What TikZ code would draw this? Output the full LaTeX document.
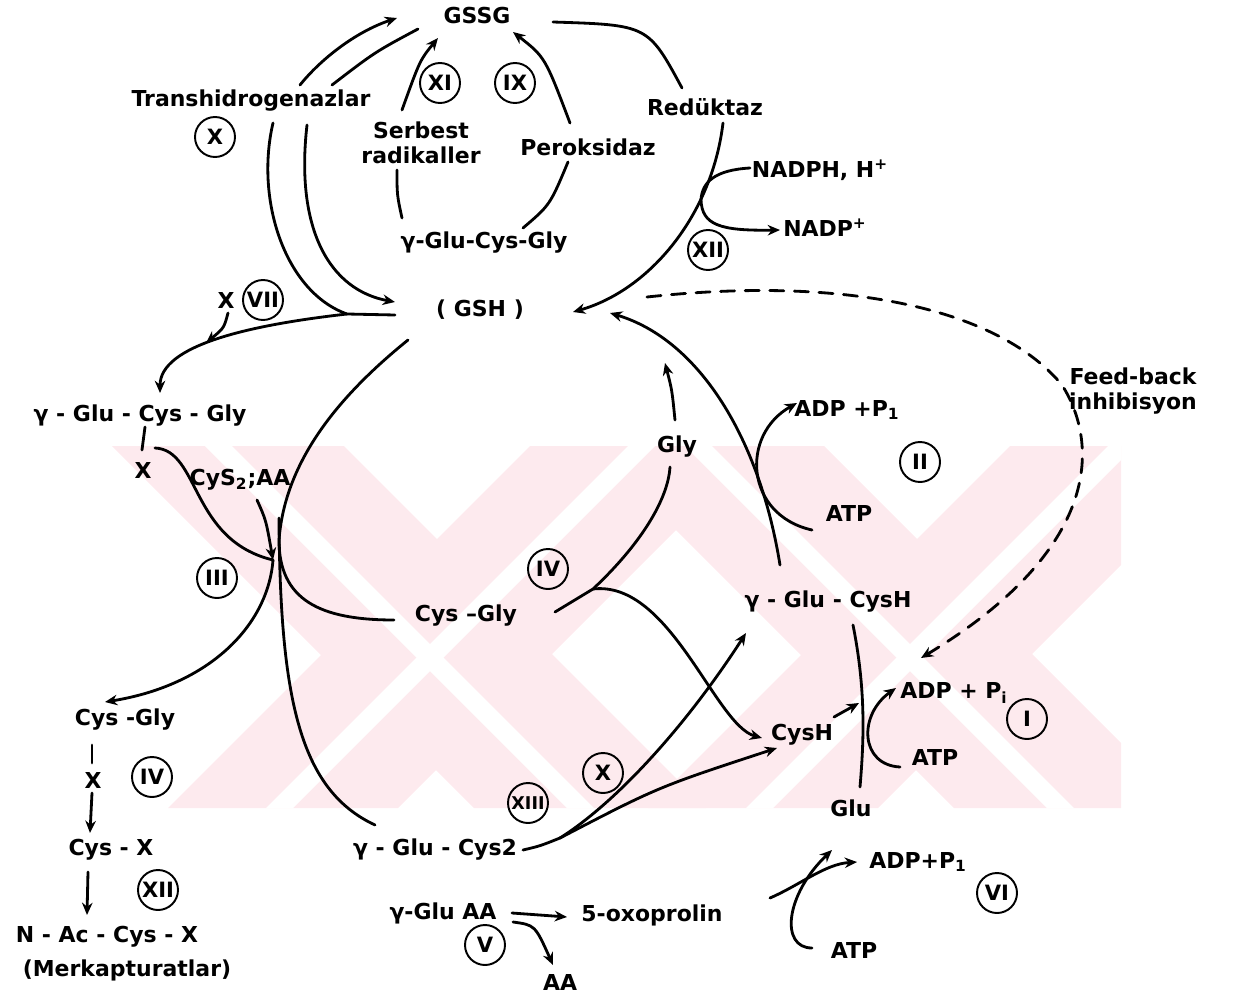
\documentclass[tikz,border=0pt]{standalone}
\usepackage{fontspec}
\setmainfont{DejaVu Sans}
\usetikzlibrary{arrows.meta}

\begin{document}
\begin{tikzpicture}[x=0.2mm,y=-0.2mm,line cap=round,>={Stealth[length=7pt,width=6pt]}]
  % Colors
  \definecolor{markcolor}{RGB}{253,234,238}

  % Styles
  \tikzstyle{chem}=[inner sep=1pt,font=\bfseries\fontsize{12.5}{14}\selectfont]
  \tikzstyle{enzyme}=[circle,draw,line width=1.1pt,minimum size=0.8cm,inner sep=0pt,
    font=\bfseries\fontsize{12}{14}\selectfont]
  \tikzstyle{reaction}=[line width=1.6pt]
  \tikzstyle{feedback}=[reaction,dash pattern=on 8pt off 6pt]

  \useasboundingbox (0,0) rectangle (1245,997);

  % Watermark
  \begin{scope}
    \clip (110,446) rectangle (1121,808);
    \foreach \dx in {0,480} {
      \fill[markcolor] (112+\dx,446) -- (344+\dx,446) -- (706+\dx,808) -- (474+\dx,808) -- cycle;
      \fill[markcolor] (530+\dx,446) -- (760+\dx,446) -- (398+\dx,808) -- (168+\dx,808) -- cycle;
    }
    \foreach \dx in {0,480} {
      \fill[white] (205+\dx,446) -- (232+\dx,446) -- (594+\dx,808) -- (567+\dx,808) -- cycle;
      \fill[white] (628+\dx,446) -- (655+\dx,446) -- (293+\dx,808) -- (266+\dx,808) -- cycle;
    }
  \end{scope}

  % Compounds
  \node[chem] (gssg) at (477,16) {GSSG};
  \node[chem] (trans) at (251,101) {Transhidrogenazlar};
  \node[chem,align=center] (radical) at (421,143) {Serbest\\radikaller};
  \node[chem] (perox) at (588,147) {Peroksidaz};
  \node[chem] (reduk) at (705,107) {Redüktaz};
  \node[chem] (nadph) at (820,170) {NADPH, H\textsuperscript{+}};
  \node[chem] (nadp) at (825,228) {NADP\textsuperscript{+}};
  \node[chem] (gcgtop) at (484,243) {γ-Glu-Cys-Gly};
  \node[chem] (gsh) at (480,310) {( GSH )};
  \node[chem] (xvii) at (226,300) {X};
  \node[chem] (gcgleft) at (140,416) {γ - Glu - Cys - Gly};
  \node[chem] (xleft) at (143,470) {X};
  \node[chem] (cysaa) at (240,480) {CyS\textsubscript{2};AA};
  \node[chem] (cgmid) at (466,616) {Cys –Gly};
  \node[chem] (gly) at (677,447) {Gly};
  \node[chem] (adp2) at (847,410) {ADP +P\textsubscript{1}};
  \node[chem] (atp2) at (849,513) {ATP};
  \node[chem,align=center] (feed) at (1133,391) {Feed-back\\inhibisyon};
  \node[chem] (gcysh) at (828,602) {γ - Glu - CysH};
  \node[chem] (adp1) at (954,693) {ADP + P\textsubscript{i}};
  \node[chem] (cysh) at (802,735) {CysH};
  \node[chem] (atp1) at (935,757) {ATP};
  \node[chem] (glu) at (851,808) {Glu};
  \node[chem] (cgleft) at (125,720) {Cys -Gly};
  \node[chem] (xl2) at (93,780) {X};
  \node[chem] (cysx) at (111,850) {Cys - X};
  \node[chem] (nac) at (107,937) {N - Ac - Cys - X};
  \node[chem] (merk) at (127,970) {(Merkapturatlar)};
  \node[chem] (gc2) at (435,850) {γ - Glu - Cys2};
  \node[chem] (gaa) at (443,913) {γ-Glu AA};
  \node[chem] (oxo) at (652,915) {5-oxoprolin};
  \node[chem] (aa) at (560,982) {AA};
  \node[chem] (adp3) at (918,862) {ADP+P\textsubscript{1}};
  \node[chem] (atp3) at (854,950) {ATP};

  % Enzymes
  \node[enzyme] (eX) at (215,137) {X};
  \node[enzyme] (eXI) at (440,83) {XI};
  \node[enzyme] (eIX) at (515,83) {IX};
  \node[enzyme] (eXIIa) at (708,250) {XII};
  \node[enzyme] (eVII) at (263,300) {VII};
  \node[enzyme] (eIII) at (217,578) {III};
  \node[enzyme] (eIVa) at (548,569) {IV};
  \node[enzyme] (eII) at (920,462) {II};
  \node[enzyme] (eI) at (1027,719) {I};
  \node[enzyme] (eIVb) at (152,777) {IV};
  \node[enzyme] (eXIIb) at (158,890) {XII};
  \node[enzyme,font=\bfseries\fontsize{10}{12}\selectfont] (eXIII) at (528,803) {XIII};
  \node[enzyme] (eXb) at (603,773) {X};
  \node[enzyme] (eV) at (485,945) {V};
  \node[enzyme] (eVI) at (997,893) {VI};

  % Line ends
  \coordinate (gshL) at (395,315); \coordinate (fork) at (347,314);
  \coordinate (transBL) at (273,123); \coordinate (gcglT) at (160,393);
  \coordinate (xviiS) at (228,313); \coordinate (viiTip) at (206,343);
  \coordinate (transTR) at (300,85); \coordinate (gssgW) at (397,18);
  \coordinate (gssgWL) at (418,29); \coordinate (transTR2) at (332,85);
  \coordinate (transBR) at (307,125); \coordinate (gshW) at (395,302);
  \coordinate (gcgtopT) at (402,218); \coordinate (radikB) at (397,170);
  \coordinate (radikT) at (402,110); \coordinate (gssgS) at (438,38);
  \coordinate (gcgtopTR) at (523,228); \coordinate (peroxB) at (568,162);
  \coordinate (peroxT) at (570,123); \coordinate (gssgSE) at (513,32);
  \coordinate (gssgE) at (553,22); \coordinate (redukT) at (682,88);
  \coordinate (redukB) at (723,123); \coordinate (gshE) at (573,312);
  \coordinate (nadphW) at (750,168); \coordinate (redMerge) at (701,200);
  \coordinate (nadpW) at (780,230);
  \coordinate (gshE2) at (647,297); \coordinate (fbMid) at (1062,385);
  \coordinate (feedTip) at (921,658);
  \coordinate (glyT) at (675,420); \coordinate (gshSE) at (665,363);
  \coordinate (cgmidE) at (555,612); \coordinate (ivFork) at (593,589);
  \coordinate (glyB) at (670,467); \coordinate (cyshW) at (762,738);
  \coordinate (gcyshT) at (780,565); \coordinate (gshE3) at (610,313);
  \coordinate (atp2W) at (812,530); \coordinate (adp2W) at (797,403);
  \coordinate (gcyshB) at (853,625); \coordinate (gluT) at (860,787);
  \coordinate (cyshE) at (834,717); \coordinate (gluLine) at (859,703);
  \coordinate (atp1W) at (900,767); \coordinate (adp1W) at (896,688);
  \coordinate (gshSW) at (408,340); \coordinate (bend) at (279,540);
  \coordinate (cgmidW) at (394,620);
  \coordinate (xleftR) at (155,448); \coordinate (junc) at (273,560);
  \coordinate (cgleftT) at (105,702); \coordinate (cysaaB) at (257,500);
  \coordinate (gc2Top) at (279,518); \coordinate (gc2T) at (375,825);
  \coordinate (gc2E) at (523,850); \coordinate (c2fork) at (560,838);
  \coordinate (gcyshBL) at (746,633); \coordinate (cyshSW) at (777,748);
  \coordinate (gaaE) at (512,913); \coordinate (oxoW) at (567,917);
  \coordinate (gaaSE) at (513,922); \coordinate (aaT) at (553,965);
  \coordinate (oxoE) at (770,898); \coordinate (adp3W) at (857,862);
  \coordinate (atp3W) at (812,948); \coordinate (adp3SW) at (832,850);
  \coordinate (cgleftB) at (92,745); \coordinate (x2T) at (92,763);
  \coordinate (x2B) at (92,793); \coordinate (cysxT) at (90,833);
  \coordinate (cysxB) at (88,872); \coordinate (nacT) at (87,915);
  \coordinate (gcglB) at (145,427); \coordinate (xleftT) at (142,450);

  % GSSG / GSH cycle
  \draw[reaction] (gshL) -- (fork) .. controls (285,292) and (255,200) .. (transBL);
  \draw[reaction,->] (fork) .. controls (250,325) and (160,345) .. (gcglT);
  \draw[reaction,->] (xviiS) .. controls (224,328) .. (viiTip);
  \draw[reaction,->] (transTR) .. controls (320,60) and (355,32) .. (gssgW);
  \draw[reaction] (gssgWL) .. controls (375,52) .. (transTR2);
  \draw[reaction,->] (transBR) .. controls (295,230) and (330,290) .. (gshW);
  \draw[reaction] (gcgtopT) .. controls (397,195) .. (radikB);
  \draw[reaction,->] (radikT) .. controls (420,60) .. (gssgS);
  \draw[reaction] (gcgtopTR) .. controls (550,205) .. (peroxB);
  \draw[reaction,->] (peroxT) .. controls (545,57) .. (gssgSE);
  \draw[reaction] (gssgE) .. controls (648,25) .. (redukT);
  \draw[reaction,->] (redukB) .. controls (712,215) and (650,290) .. (gshE);
  \draw[reaction] (nadphW) .. controls (715,170) and (702,182) .. (redMerge);
  \draw[reaction,->] (redMerge) .. controls (702,225) and (720,231) .. (nadpW);

  % Feed-back
  \draw[feedback,->] (gshE2) .. controls (850,275) and (1000,310) .. (fbMid)
    .. controls (1100,445) and (1100,550) .. (feedTip);

  % Synthesis
  \draw[reaction,->] (glyT) .. controls (672,390) .. (gshSE);
  \draw[reaction] (cgmidE) -- (ivFork) .. controls (640,545) and (668,500) .. (glyB);
  \draw[reaction,->] (ivFork) .. controls (670,580) and (715,725) .. (cyshW);
  \draw[reaction,->] (gcyshT) .. controls (760,440) and (700,340) .. (gshE3);
  \draw[reaction,->] (atp2W) .. controls (745,515) and (740,435) .. (adp2W);
  \draw[reaction] (gcyshB) .. controls (866,690) and (864,740) .. (gluT);
  \draw[reaction,->] (cyshE) -- (gluLine);
  \draw[reaction,->] (atp1W) .. controls (860,765) and (858,715) .. (adp1W);

  % Degradation
  \draw[reaction] (gshSW) .. controls (340,395) and (285,460) .. (bend)
    .. controls (279,600) and (320,620) .. (cgmidW);
  \draw[reaction] (xleftR) .. controls (200,450) and (190,540) .. (junc);
  \draw[reaction,->] (junc) .. controls (268,625) and (210,685) .. (cgleftT);
  \draw[reaction,->] (cysaaB) .. controls (266,520) .. (junc);
  \draw[reaction] (gc2Top) .. controls (280,700) and (300,790) .. (gc2T);
  \draw[reaction] (gc2E) .. controls (540,846) .. (c2fork);
  \draw[reaction,->] (c2fork) .. controls (620,800) and (690,720) .. (gcyshBL);
  \draw[reaction,->] (c2fork) .. controls (658,787) .. (cyshSW);
  \draw[reaction,->] (gaaE) -- (oxoW);
  \draw[reaction,->] (gaaSE) .. controls (535,925) .. (aaT);
  \draw[reaction,->] (oxoE) .. controls (800,885) and (825,864) .. (adp3W);
  \draw[reaction,->] (atp3W) .. controls (780,948) and (785,895) .. (adp3SW);

  % Merkapturat way
  \draw[reaction] (gcglB) -- (xleftT);
  \draw[reaction] (cgleftB) -- (x2T);
  \draw[reaction,->] (x2B) -- (cysxT);
  \draw[reaction,->] (cysxB) -- (nacT);
\end{tikzpicture}
\end{document}
